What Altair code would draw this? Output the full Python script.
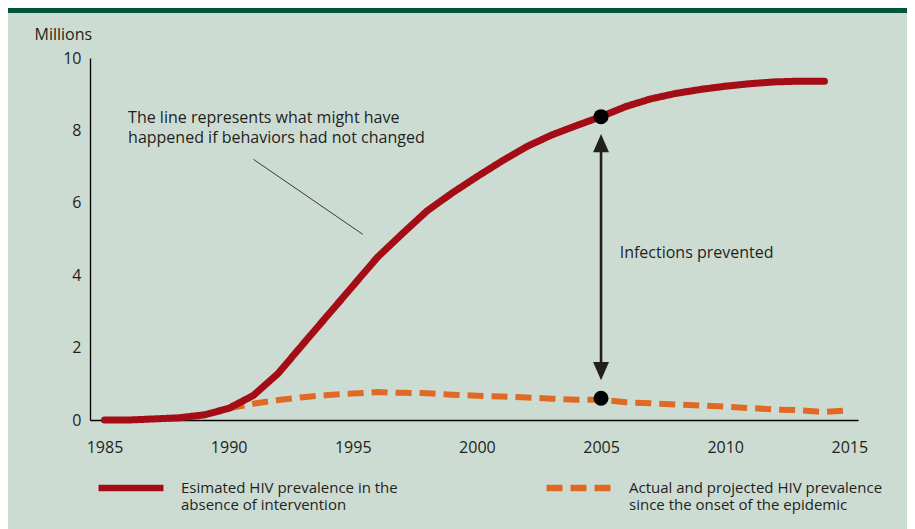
import altair as alt
import pandas as pd

# ---------------- data ----------------
red_years = list(range(1985, 2015))
red_values = [0.00, 0.00, 0.03, 0.06, 0.14, 0.32, 0.68, 1.29, 2.10, 2.90,
              3.70, 4.50, 5.15, 5.78, 6.27, 6.72, 7.15, 7.55, 7.87, 8.13,
              8.38, 8.66, 8.87, 9.02, 9.13, 9.22, 9.29, 9.34, 9.36, 9.36]

orange_years = list(range(1990, 2016))
orange_values = [0.32, 0.45, 0.55, 0.63, 0.69, 0.73, 0.77, 0.75, 0.74, 0.70,
                 0.67, 0.65, 0.62, 0.59, 0.56, 0.56, 0.49, 0.46, 0.43, 0.40,
                 0.37, 0.33, 0.29, 0.27, 0.22, 0.27]

x_ticks = [1985, 1990, 1995, 2000, 2005, 2010, 2015]
y_ticks = [0, 2, 4, 6, 8, 10]

red_name = "Esimated HIV prevalence in the|absence of intervention"
orange_name = "Actual and projected HIV prevalence|since the onset of the epidemic"

dot_years = [2005, 2005]
dot_values = [8.38, 0.60]

arrow_year = [2005]
arrow_low = [1.1]
arrow_high = [7.9]

note_text = ["The line represents what might have\nhappened if behaviors had not changed"]
note_year = [1985.95]
note_value = [8.2]

leader_years = [1991.0, 1995.4]
leader_values = [7.2, 5.13]

label_text = ["Infections prevented"]
label_year = [2005.75]
label_value = [4.48]

# ---------------- styling ----------------
FONT = "Open Sans"
INK = "#231f20"
RED = "#a50d16"
ORANGE = "#e06a24"
BG = "#cddcd3"
BAND = "#00553a"

lines_df = pd.concat([
    pd.DataFrame({"series": red_name, "year": red_years, "value": red_values}),
    pd.DataFrame({"series": orange_name, "year": orange_years, "value": orange_values}),
], ignore_index=True)

xs = alt.Scale(domain=[1984.416, 2015.35], nice=False, zero=False)
ys = alt.Scale(domain=[0, 10], nice=False)

x_axis = alt.Axis(values=x_ticks, format="d", ticks=False, grid=False, domainColor="black",
                  domainWidth=1.3, labelFont=FONT, labelFontSize=16, labelColor=INK,
                  labelPadding=19, labelFlush=False, title=None)
y_axis = alt.Axis(values=y_ticks, format="d", ticks=False, grid=False, domainColor="black",
                  domainWidth=1.3, labelFont=FONT, labelFontSize=16, labelColor=INK,
                  labelPadding=9, title="Millions", titleAngle=0, titleX=-56, titleY=-19,
                  titleAlign="left", titleBaseline="alphabetic", titleFont=FONT,
                  titleFontSize=16, titleFontWeight="normal", titleColor=INK)

X = alt.X("year:Q", scale=xs, axis=x_axis, title=None)
Y = alt.Y("value:Q", scale=ys, axis=y_axis, title="Millions")

legend = alt.Legend(orient="none", legendX=5, legendY=394, direction="horizontal", title=None,
                    symbolType="stroke", symbolSize=4225, symbolStrokeWidth=6.5,
                    labelFont=FONT, labelFontSize=15, labelColor=INK,
                    labelOffset=14, columnPadding=135, labelLimit=500, padding=0,
                    labelExpr="split(datum.label, '|')")

color = alt.Color("series:N", scale=alt.Scale(domain=[red_name, orange_name], range=[RED, ORANGE]),
                  legend=legend, title=None)
dash = alt.StrokeDash("series:N", scale=alt.Scale(domain=[red_name, orange_name], range=[[1, 0], [16, 8]]),
                      legend=legend, title=None)

base = alt.Chart(lines_df)

orange_line = base.transform_filter(alt.datum.series == orange_name).mark_line(
    strokeWidth=6, strokeCap="butt").encode(x=X, y=Y, color=color, strokeDash=dash)
red_line = base.transform_filter(alt.datum.series == red_name).mark_line(
    strokeWidth=7, strokeCap="round", strokeJoin="round").encode(x=X, y=Y, color=color, strokeDash=dash)

dots = alt.Chart(pd.DataFrame({"year": dot_years, "value": dot_values})).mark_point(
    shape="circle", filled=True, size=225, color="black", opacity=1).encode(x=X, y=Y)

arrow_df = pd.DataFrame({"year": arrow_year, "value": arrow_low, "value2": arrow_high})
arrow_shaft = alt.Chart(arrow_df).transform_calculate(
    lo="datum.value + 0.25", hi="datum.value2 - 0.25").mark_rule(
    color=INK, strokeWidth=2.6).encode(x=X, y=alt.Y("lo:Q", scale=ys, axis=y_axis, title="Millions"),
                                       y2="hi:Q")
head_up = alt.Chart(pd.DataFrame({"year": arrow_year, "value": arrow_high})).mark_point(
    shape="M0,-1L-0.87,1L0.87,1Z", filled=True, size=335, color=INK, opacity=1, yOffset=9.15
).encode(x=X, y=Y)
head_down = alt.Chart(pd.DataFrame({"year": arrow_year, "value": arrow_low})).mark_point(
    shape="M0,1L-0.87,-1L0.87,-1Z", filled=True, size=335, color=INK, opacity=1, yOffset=-9.15
).encode(x=X, y=Y)

leader = alt.Chart(pd.DataFrame({"year": leader_years, "value": leader_values})).mark_line(
    color="#3a3a3a", strokeWidth=1).encode(x=X, y=Y)

note = alt.Chart(pd.DataFrame({"year": note_year, "value": note_value, "text": note_text})).mark_text(
    align="left", baseline="alphabetic", font=FONT, fontSize=16, color=INK, lineBreak="\n",
    lineHeight=20).encode(x=X, y=Y, text="text:N")

label = alt.Chart(pd.DataFrame({"year": label_year, "value": label_value, "text": label_text})).mark_text(
    align="left", baseline="alphabetic", font=FONT, fontSize=16, color=INK).encode(
    x=X, y=Y, text="text:N")

band = alt.Chart(pd.DataFrame({"k": [0]})).mark_rect(color=BAND).encode(
    x=alt.value(-82), x2=alt.value(817), y=alt.value(-50), y2=alt.value(-45))

chart = alt.layer(
    band, leader, orange_line, red_line, arrow_shaft, head_up, head_down, dots, note, label
).properties(
    width=768, height=362,
    autosize=alt.AutoSizeParams(type="none"),
    padding={"left": 82, "top": 50, "right": 49, "bottom": 109},
    background=BG,
).configure_view(stroke=None)

chart.save("out.html", embed_options={"renderer": "svg", "actions": False})
